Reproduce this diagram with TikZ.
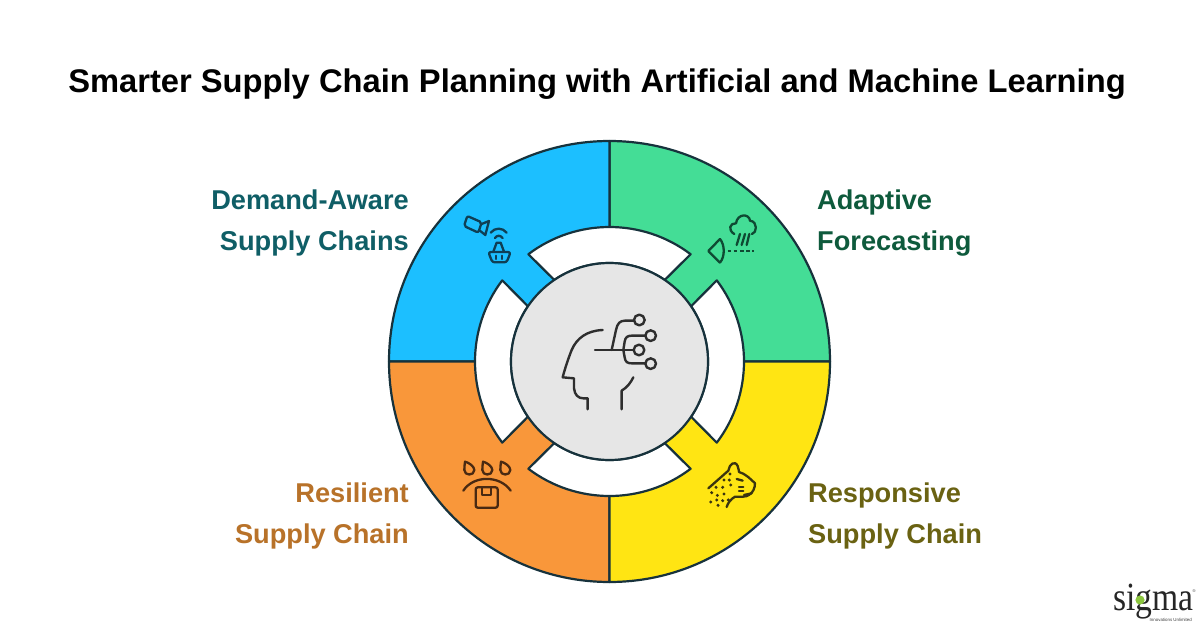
\documentclass[tikz,border=0pt]{standalone}
\usepackage{fontspec}
\setmainfont{Liberation Sans}
\newfontfamily\logofont{Liberation Serif}
\definecolor{ink}{HTML}{17323C}
\definecolor{cblue}{HTML}{1CBFFF}
\definecolor{cgreen}{HTML}{44DD96}
\definecolor{cyellow}{HTML}{FFE513}
\definecolor{corange}{HTML}{F9973A}
\definecolor{cgrey}{HTML}{E6E6E6}
\definecolor{tblue}{HTML}{0F5E66}
\definecolor{tgreen}{HTML}{0E5A3C}
\definecolor{tyellow}{HTML}{6A6212}
\definecolor{torange}{HTML}{B87229}
\definecolor{iconbrown}{HTML}{4A2A12}
\definecolor{iconolive}{HTML}{3A3410}
\definecolor{icongrey}{HTML}{2E2E2E}
\definecolor{icongreen}{HTML}{0F4A33}
\definecolor{iconblue}{HTML}{0F3F55}
\definecolor{logog}{HTML}{8CC63F}
\tikzset{
  sector/.style={draw=ink,line width=2.2pt,line join=round},
  gapring/.style={fill=white,draw=ink,line width=2.2pt,line join=round},
  lab/.style={inner sep=0pt,font=\fontsize{27.2}{41}\selectfont\bfseries,align=left},
  labr/.style={inner sep=0pt,font=\fontsize{27.2}{41}\selectfont\bfseries,align=right},
  iconline/.style={line width=2.3pt,line cap=round,line join=round},
  headline/.style={line width=2.4pt,color=icongrey,line cap=round,line join=round},
  zoomA/.style={shift={(#1)},x=0.3333pt,y=-0.3333pt}
}
\begin{document}
\begin{tikzpicture}[x=1pt,y=-1pt]
\path[use as bounding box,fill=white] (0,0) rectangle (1200,627);
\node[inner sep=0pt,font=\fontsize{32.7}{38}\selectfont\bfseries] (title) at (597,84.5) {Smarter Supply Chain Planning with Artificial and Machine Learning};
% wheel
\begin{scope}[shift={(609.5pt,-361.5pt)},x=1pt,y=1pt]
\filldraw[sector,fill=cgreen] (0,0) -- (0:220.5) arc[start angle=0,end angle=90,radius=220.5] -- cycle;
\filldraw[sector,fill=cblue] (0,0) -- (90:220.5) arc[start angle=90,end angle=180,radius=220.5] -- cycle;
\filldraw[sector,fill=corange] (0,0) -- (180:220.5) arc[start angle=180,end angle=270,radius=220.5] -- cycle;
\filldraw[sector,fill=cyellow] (0,0) -- (270:220.5) arc[start angle=270,end angle=360,radius=220.5] -- cycle;
\foreach \m in {90,180,270,0}{
  \filldraw[gapring] (\m-37.1:134.5) arc[start angle=\m-37.1,end angle=\m+37.1,radius=134.5]
    -- (\m+34.1:98.5) arc[start angle=\m+34.1,end angle=\m-34.1,radius=98.5] -- cycle;
}
\filldraw[sector,fill=cgrey] (0,0) circle[radius=98.5];
\end{scope}
% labels
\node[labr,text=tblue,anchor=north east] (demand) at (409,190) {Demand-Aware\\Supply Chains};
\node[lab,text=tgreen,anchor=north west] (adaptive) at (817,190) {Adaptive\\Forecasting};
\node[lab,text=tyellow,anchor=north west] (responsive) at (808,483) {Responsive\\Supply Chain};
\node[labr,text=torange,anchor=north east] (resilient) at (409,483) {Resilient\\Supply Chain};
% head icon
\begin{scope}[zoomA={550,300}]
\draw[headline] (158,90) .. controls (110,92) and (80,115) .. (65,150) .. controls (55,175) and (45,205) .. (38,232) -- (72,235) -- (72,265) .. controls (74,285) and (85,295) .. (100,295) -- (113,295) -- (113,328);
\draw[headline] (215,328) -- (215,272) .. controls (232,262) and (242,248) .. (250,232);
\draw[headline] (135,150) -- (251,150);
\draw[headline] (185,150) -- (198,90) .. controls (202,70) and (210,62) .. (225,62) -- (252,62);
\draw[headline] (220,150) -- (224,125) .. controls (226,112) and (232,107) .. (245,107) -- (286,107);
\draw[headline] (220,150) -- (224,172) .. controls (226,186) and (232,190) .. (245,190) -- (286,190);
\foreach \p in {(268,60),(302,107),(267,150),(302,191)}
  \draw[headline] \p circle[radius=16];
\end{scope}
% camera and basket icon
\begin{scope}[zoomA={440,190},color=iconblue]
\draw[iconline,rounded corners=2pt] (82,78) -- (125,97) -- (115,128) -- (72,108) -- cycle;
\draw[iconline] (125,102) -- (147,93) -- (136,135) -- (117,120);
\draw[iconline] (152,128) .. controls (165,112) and (187,112) .. (200,128);
\draw[iconline] (165,144) .. controls (172,135) and (180,135) .. (188,144);
\draw[iconline] (160,185) -- (170,158) -- (182,158) -- (192,185);
\draw[iconline,rounded corners=2.5pt] (145,186) -- (212,186) -- (200,217) -- (157,217) -- cycle;
\draw[iconline] (168,197) -- (168,207) (187,197) -- (187,207);
\end{scope}
% rain icon
\begin{scope}[zoomA={690,200},color=icongreen]
\draw[iconline] (133,102) .. controls (112,90) and (120,68) .. (138,70) .. controls (142,40) and (178,40) .. (180,62) .. controls (205,65) and (200,100) .. (186,102);
\draw[iconline] (150,102) -- (140,135) (165,102) -- (155,135) (178,102) -- (170,135);
\draw[iconline,dash pattern=on 3.6pt off 2.6pt,line cap=butt] (113,153) -- (192,153);
\draw[iconline] (90,117) -- (55,153) -- (90,188) (90,117) .. controls (105,135) and (105,170) .. (90,188);
\end{scope}
% cheetah icon
\begin{scope}[zoomA={690,450},color=iconolive]
\draw[iconline] (55,115) -- (115,62) .. controls (118,42) and (135,30) .. (143,48) .. controls (146,56) and (146,62) .. (147,66) .. controls (165,70) and (183,88) .. (195,100) .. controls (195,115) and (188,128) .. (178,134) .. controls (170,142) and (150,140) .. (135,140) .. controls (122,148) and (114,158) .. (110,171);
\draw[iconline] (140,87) -- (158,92);
\draw[iconline] (147,110) -- (160,110) (147,122) -- (160,122);
\draw[iconline] (162,135) -- (185,130);
\foreach \p in {(120,72),(102,90),(118,90),(78,112),(98,112),(122,105),(65,128),(82,136),(102,132),(115,150),(62,156),(80,150),(98,152),(84,166)}
  \fill \p circle[radius=5];
\end{scope}
% drops and box icon
\begin{scope}[zoomA={450,450},color=iconbrown]
\foreach \dx in {0,54,108}{
  \begin{scope}[xshift=\dx*0.3333pt]
  \draw[iconline] (45,35) .. controls (58,38) and (73,50) .. (73,60) .. controls (73,78) and (43,78) .. (43,60) .. controls (43,52) and (44,42) .. (45,35) -- cycle;
  \end{scope}
}
\draw[iconline] (40,122) .. controls (70,75) and (150,75) .. (182,122);
\draw[iconline,rounded corners=2pt] (77,112) rectangle (143,173);
\draw[iconline] (97,112) -- (97,135) -- (123,135) -- (123,112);
\end{scope}
% logo
\node[inner sep=0pt,anchor=base west,xscale=0.84,transform shape,font=\logofont\fontsize{40}{40}\selectfont,text=black!85] (logoword) at (1113,610) {sigma};
\fill[logog] (1140,600) circle[radius=4.6];
\node[inner sep=0pt,anchor=base east,font=\fontsize{4.4}{5}\selectfont,text=black!75] (logosub) at (1192,621) {Innovations Unlimited};
\node[inner sep=0pt,font=\fontsize{4}{4}\selectfont,text=black!75] (logor) at (1194,591) {®};
\end{tikzpicture}
\end{document}
